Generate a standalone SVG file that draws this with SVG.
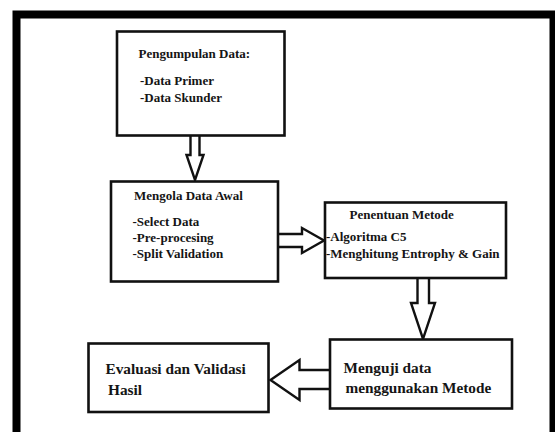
<svg xmlns="http://www.w3.org/2000/svg" width="555" height="432" viewBox="0 0 555 432">
<style>
.box{fill:#fff;stroke:#111;stroke-width:2.6}
.arr{fill:#fff;stroke:#111;stroke-width:2.4;stroke-linejoin:miter}
text{font-family:"Liberation Serif","Times New Roman",serif;font-weight:bold;fill:#151515}
.s{font-size:13px}
.l{font-size:15.3px}
</style>
<rect x="0" y="0" width="555" height="432" fill="#fff"/>
<rect id="frame" x="16.5" y="14.5" width="537" height="430" fill="#fff" stroke="#000" stroke-width="8"/>
<g id="connectors">
<path class="arr" d="M190.5,136 V155 H186.5 L195,180 L203.5,155 H199.5 V136"/>
<path class="arr" d="M279,234 H302 V228 L324,240.5 L302,253 V247 H279"/>
<path class="arr" d="M417.5,278 V303 H411 L423,339 L435,303 H429 V278"/>
<path class="arr" d="M330,370 H299.5 V360 L270.5,380 L299.5,400 V389 H330"/>
</g>
<g id="n1">
<rect class="box" x="117" y="31.5" width="167.5" height="104"/>
<text class="s" x="138.5" y="58">Pengumpulan Data:</text>
<text class="s" x="140" y="85">-Data Primer</text>
<text class="s" x="140" y="101.5">-Data Skunder</text>
</g>
<g id="n2">
<rect class="box" x="111" y="181.5" width="167" height="100"/>
<text class="s" x="134" y="200">Mengola Data Awal</text>
<text class="s" x="132.5" y="225.5">-Select Data</text>
<text class="s" x="132.5" y="241.5">-Pre-procesing</text>
<text class="s" x="132.5" y="258">-Split Validation</text>
</g>
<g id="n3">
<rect class="box" x="325" y="202.5" width="181" height="75.5"/>
<text class="s" x="349.5" y="218.5">Penentuan Metode</text>
<text class="s" x="326" y="240.5">-Algoritma C5</text>
<text class="s" x="326" y="258">-Menghitung Entrophy &amp; Gain</text>
</g>
<g id="n4">
<rect class="box" x="330" y="339.5" width="182" height="69"/>
<text class="l" x="343.5" y="372.5">Menguji data</text>
<text class="l" x="345.5" y="392.5">menggunakan Metode</text>
</g>
<g id="n5">
<rect class="box" x="88.5" y="343.5" width="180" height="68.5"/>
<text class="l" x="105.5" y="373.5">Evaluasi dan Validasi</text>
<text class="l" x="108" y="395">Hasil</text>
</g>
</svg>
